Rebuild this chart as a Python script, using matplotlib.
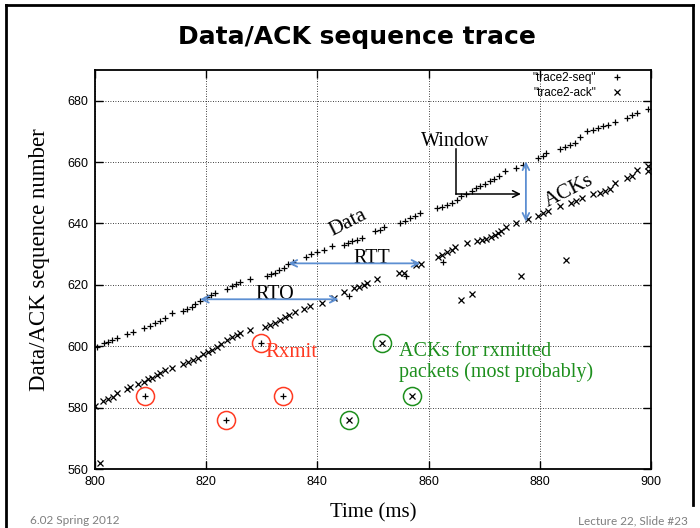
import matplotlib
matplotlib.use('Agg')
import matplotlib.pyplot as plt
from matplotlib.lines import Line2D

# ---------------- data ----------------
seq_t = [800.3, 801.7, 802.4, 803.1, 804.0, 805.8, 806.9, 808.9, 809.9, 810.8,
         811.7, 812.6, 813.8, 815.8, 816.5, 817.4, 818.0, 818.9, 820.1, 820.9,
         821.6, 823.7, 824.6, 825.4, 826.1, 827.9, 830.9, 831.6, 832.4, 833.1,
         834.0, 834.8, 835.6, 837.9, 838.8, 839.9, 841.1, 842.6, 844.7, 845.5,
         846.3, 847.1, 848.0, 850.4, 851.3, 852.0, 854.9, 855.8, 856.7, 857.6,
         858.5, 861.5, 862.4, 863.3, 864.2, 865.1, 865.9, 866.7, 867.8, 868.5,
         869.2, 870.1, 871.0, 871.8, 872.7, 873.7, 875.8, 876.9, 879.7, 880.5,
         881.2, 883.6, 884.5, 885.4, 886.3, 887.2, 888.4, 889.5, 890.5, 891.4,
         892.3, 893.5, 895.6, 896.5, 897.4, 899.5,
         845.6, 855.9, 862.6]
seq_v = [599.6, 600.9, 601.3, 602.1, 602.8, 603.9, 604.7, 605.9, 606.7, 607.5,
         608.3, 609.2, 610.7, 611.6, 612.2, 612.9, 613.8, 614.7, 616.2, 616.7,
         617.5, 618.6, 619.5, 620.2, 620.9, 622.0, 623.0, 623.5, 624.0, 624.7,
         625.5, 626.8, 627.3, 629.2, 630.0, 630.8, 631.4, 632.5, 633.1, 633.6,
         634.2, 634.7, 635.3, 637.4, 637.9, 639.0, 640.1, 640.7, 641.7, 642.5,
         643.4, 645.0, 645.5, 646.1, 646.8, 647.7, 648.8, 649.7, 650.6, 651.4,
         652.1, 652.9, 653.7, 654.5, 655.4, 657.0, 658.1, 658.9, 661.2, 661.9,
         663.0, 664.2, 664.9, 665.6, 666.3, 668.3, 670.1, 670.5, 671.0, 671.6,
         672.1, 673.2, 674.3, 675.2, 675.9, 677.3,
         616.5, 622.8, 627.6]

ack_t = [800.0, 801.5, 802.4, 803.3, 803.9, 805.7, 806.3, 807.8, 808.9, 809.6,
         810.2, 811.1, 811.7, 812.6, 813.8, 815.9, 816.8, 817.7, 818.6, 819.5,
         820.3, 821.0, 821.9, 822.6, 823.7, 824.6, 825.5, 826.1, 827.9, 830.6,
         831.5, 832.4, 833.3, 834.2, 834.9, 836.0, 837.5, 838.7, 840.8, 842.9,
         844.7, 846.5, 847.4, 848.3, 848.9, 850.8, 854.7, 855.5, 857.8, 858.7,
         861.7, 862.4, 863.3, 864.2, 864.8, 866.9, 868.7, 869.6, 870.4, 871.3,
         871.9, 872.5, 873.1, 874.0, 875.8, 877.9, 879.7, 880.6, 881.5, 883.6,
         885.7, 886.6, 887.5, 889.6, 890.8, 891.7, 892.6, 893.5, 895.6, 896.5,
         897.4, 899.5, 899.5,
         800.9, 865.8, 867.8, 876.7, 884.8]
ack_v = [580.6, 582.0, 582.7, 583.6, 584.9, 586.0, 586.6, 587.7, 588.5, 589.2,
         589.8, 590.7, 591.2, 592.1, 592.8, 594.1, 595.0, 595.5, 596.3, 597.4,
         598.2, 598.8, 599.9, 600.8, 602.1, 602.9, 603.7, 604.2, 605.3, 606.2,
         606.9, 607.7, 608.6, 609.5, 610.2, 611.0, 612.1, 613.0, 614.0, 615.6,
         617.8, 618.9, 619.4, 620.0, 620.7, 621.9, 624.0, 623.8, 626.5, 626.8,
         629.2, 629.8, 630.6, 631.5, 632.2, 633.5, 634.2, 634.6, 635.1, 635.7,
         636.2, 636.9, 637.5, 639.0, 640.1, 641.3, 642.4, 643.5, 644.0, 645.7,
         646.7, 647.3, 648.2, 649.5, 650.0, 650.6, 651.1, 653.3, 654.7, 655.5,
         657.3, 658.7, 657.1,
         562.0, 614.9, 617.0, 622.9, 628.0]

# retransmitted data packets (circled red) and their ACKs (circled green)
rxmit_t = [809.0, 823.6, 829.8, 833.8]
rxmit_v = [583.9, 576.0, 601.0, 583.9]
rxack_t = [845.7, 851.7, 857.1]
rxack_v = [576.0, 601.0, 583.9]

x_ticks = [800, 820, 840, 860, 880, 900]
y_ticks = [560, 580, 600, 620, 640, 660, 680]

# ---------------- figure ----------------
W, H = 700, 528
fig = plt.figure(figsize=(W / 100, H / 100), dpi=100)
fig.patch.set_facecolor('white')

L, R, B, T = 95, 651, 469, 70
ax = fig.add_axes([L / W, 1 - B / H, (R - L) / W, (B - T) / H])
ax.set_xlim(800, 900)
ax.set_ylim(560, 690)
ax.set_xticks(x_ticks)
ax.set_yticks(y_ticks)
ax.tick_params(direction='in', length=6, width=1.0, top=True, right=True,
               labelsize=9, pad=5)
for lab in ax.get_xticklabels() + ax.get_yticklabels():
    lab.set_family('Liberation Sans')
for s in ax.spines.values():
    s.set_linewidth(1.3)
ax.grid(True, color='black', linestyle=(0, (1, 2)), linewidth=0.6)
ax.set_axisbelow(True)

serif = 'Liberation Serif'
ax.set_xlabel('Time (ms)', family=serif, fontsize=15)
ax.xaxis.set_label_coords(0.5, -0.085)
ax.set_ylabel('Data/ACK sequence number', family=serif, fontsize=16.5)
ax.yaxis.set_label_coords(-0.081, 0.524)

# series
ax.plot(seq_t, seq_v, linestyle='none', marker='+', ms=5, mew=0.9, color='black',
        label='"trace2-seq"')
ax.plot(ack_t, ack_v, linestyle='none', marker='x', ms=4, mew=0.9, color='black',
        label='"trace2-ack"')
ax.plot(rxmit_t, rxmit_v, linestyle='none', marker='+', ms=5, mew=0.9, color='black')
ax.plot(rxack_t, rxack_v, linestyle='none', marker='x', ms=4, mew=0.9, color='black')

red = '#ff3a22'
green = '#1d8f1d'
blue = '#5d8fd2'
ax.plot(rxmit_t, rxmit_v, linestyle='none', marker='o', ms=13, mfc='none',
        mec=red, mew=1.1)
ax.plot(rxack_t, rxack_v, linestyle='none', marker='o', ms=13, mfc='none',
        mec=green, mew=1.1)

leg = ax.legend(loc='upper right', bbox_to_anchor=((629 - L) / (R - L), 1.007),
                markerfirst=False, frameon=False, handlelength=1.2,
                handletextpad=1.2, labelspacing=0.3, borderaxespad=0.0,
                prop={'family': 'Liberation Sans', 'size': 8.5})

# annotations
ax.text(845.6, 640.1, 'Data', family=serif, fontsize=15, rotation=27,
        ha='center', va='center')
ax.text(885.2, 650.5, 'ACKs', family=serif, fontsize=15, rotation=27,
        ha='center', va='center')
ax.text(864.8, 666.8, 'Window', family=serif, fontsize=14.5, ha='center', va='center')
ax.text(849.7, 628.5, 'RTT', family=serif, fontsize=14.5, ha='center', va='center')
ax.text(832.4, 616.8, 'RTO', family=serif, fontsize=14.5, ha='center', va='center')
ax.text(835.4, 598.0, 'Rxmit', family=serif, fontsize=15, color=red,
        ha='center', va='center')
ax.text(854.6, 594.8, 'ACKs for rxmitted\npackets (most probably)', family=serif,
        fontsize=14.5, color=green, ha='left', va='center', linespacing=1.12)

ap = dict(arrowstyle='<->', color=blue, lw=1.3, shrinkA=0, shrinkB=0,
          mutation_scale=12)
ax.annotate('', xy=(834.8, 627.0), xytext=(858.5, 627.0), arrowprops=ap)
ax.annotate('', xy=(818.9, 615.3), xytext=(843.8, 615.3), arrowprops=ap)
ax.annotate('', xy=(877.5, 660.2), xytext=(877.5, 640.6), arrowprops=ap)

ax.plot([864.9, 864.9], [664.2, 649.6], color='black', lw=1.1)
ax.annotate('', xy=(876.6, 649.6), xytext=(864.9, 649.6),
            arrowprops=dict(arrowstyle='->', color='black', lw=1.1, shrinkA=0,
                            shrinkB=0, mutation_scale=12))

# slide title and footer
fig.text(357 / W, 1 - 37 / H, 'Data/ACK sequence trace', family='DejaVu Sans',
         fontweight='bold', fontsize=18, ha='center', va='center')
fig.text(30 / W, 1 - 521 / H, '6.02 Spring 2012', family='Lato', fontsize=8.5,
         color='#7f7f7f', ha='left', va='center')
fig.text(688 / W, 1 - 521 / H, 'Lecture 22, Slide #23', family='Lato', fontsize=8.5,
         color='#7f7f7f', ha='right', va='center')

# slide frame
fig.add_artist(Line2D([6 / W, 6 / W], [0, 1 - 5 / H], color='black', lw=2))
fig.add_artist(Line2D([6 / W, 693 / W], [1 - 5 / H, 1 - 5 / H], color='black', lw=2))
fig.add_artist(Line2D([693 / W, 693 / W], [1 - 5 / H, 1 - 505 / H], color='black', lw=2))

fig.savefig('out.png', dpi=100)
